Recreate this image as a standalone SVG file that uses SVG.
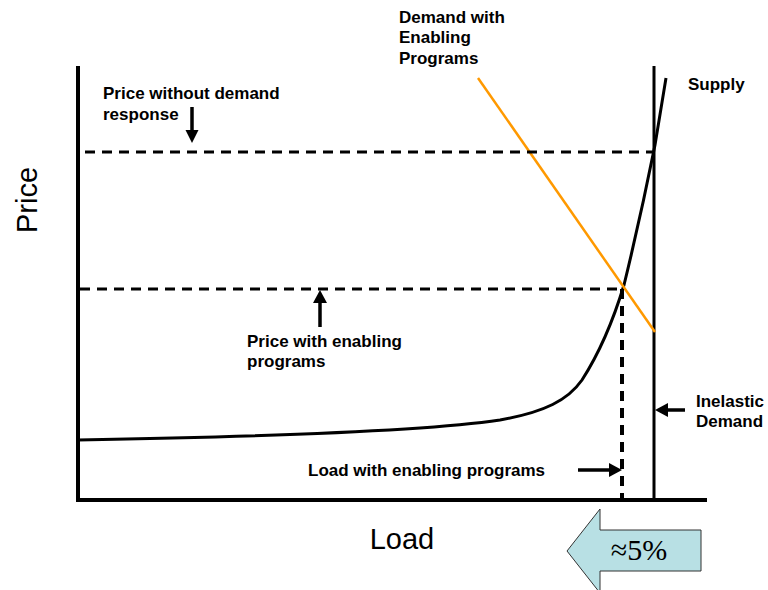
<svg xmlns="http://www.w3.org/2000/svg" width="768" height="590" viewBox="0 0 768 590">
  <defs>
    <style>
      .lbl { font-family: "Liberation Sans", Arial, sans-serif; font-weight: bold; font-size: 17px; fill: #000; }
      .axis-lbl { font-family: "Liberation Sans", Arial, sans-serif; font-size: 29px; fill: #000; }
      .axis { stroke: #000; stroke-width: 4; fill: none; }
      .dash { stroke: #000; stroke-width: 2.8; stroke-dasharray: 10 7; fill: none; }
      .dash-v { stroke: #000; stroke-width: 4; stroke-dasharray: 10 7; fill: none; }
      .ptr { stroke: #000; stroke-width: 3.5; fill: none; }
      .head { fill: #000; }
    </style>
  </defs>
  <rect width="768" height="590" fill="#fff"/>

  <!-- axes and the vertical inelastic demand line -->
  <g id="axes">
    <line class="axis" x1="78" y1="66" x2="78" y2="502"/>
    <line class="axis" x1="76" y1="500" x2="707" y2="500"/>
    <text class="axis-lbl" transform="translate(37,200) rotate(-90)" text-anchor="middle">Price</text>
    <text class="axis-lbl" x="402" y="549" text-anchor="middle">Load</text>
  </g>

  <g id="inelastic-demand">
    <line x1="654" y1="66" x2="654" y2="500" stroke="#000" stroke-width="3"/>
    <text class="lbl" x="696" y="407">Inelastic</text>
    <text class="lbl" x="696" y="427">Demand</text>
  </g>

  <g id="supply">
    <path d="M78,440 C250,437 420,432 500,420 C545,412 568,400 582,380 C600,352 614,318 624,285 C635,240 648,180 655,145 C659,120 663,95 666,78" fill="none" stroke="#000" stroke-width="3"/>
    <text class="lbl" x="688" y="90">Supply</text>
  </g>

  <g id="demand-enabling">
    <line x1="478" y1="78" x2="655" y2="332" stroke="#ff9900" stroke-width="2.5"/>
    <text class="lbl" x="399" y="23">Demand with</text>
    <text class="lbl" x="399" y="43">Enabling</text>
    <text class="lbl" x="399" y="64">Programs</text>
  </g>

  <!-- reference lines and pointers -->
  <g id="connectors">
    <line class="dash" x1="85" y1="152" x2="654" y2="152"/>
    <line class="dash" x1="80" y1="289" x2="622" y2="289"/>
    <line class="dash-v" x1="622" y1="289" x2="622" y2="500"/>

    <line class="ptr" x1="192" y1="107" x2="192" y2="131"/>
    <polygon class="head" points="185.5,130 198.5,130 192,143"/>

    <line class="ptr" x1="320" y1="327" x2="320" y2="302"/>
    <polygon class="head" points="313,303 327,303 320,290"/>

    <line class="ptr" x1="685" y1="410" x2="667" y2="410"/>
    <polygon class="head" points="668,403 668,417 655,410"/>

    <line class="ptr" x1="578" y1="470" x2="610" y2="470"/>
    <polygon class="head" points="609,463 609,477 622,470"/>
  </g>

  <g id="price-without">
    <text class="lbl" x="103" y="99">Price without demand</text>
    <text class="lbl" x="103" y="120">response</text>
  </g>

  <g id="price-with">
    <text class="lbl" x="247" y="347">Price with enabling</text>
    <text class="lbl" x="247" y="367">programs</text>
  </g>

  <g id="load-with">
    <text class="lbl" x="308" y="476">Load with enabling programs</text>
  </g>

  <g id="shift-arrow">
    <polygon points="567,551 600,509 600,530 701,530 701,571 600,571 600,593" fill="#b8e0e4" stroke="#333" stroke-width="1"/>
    <text x="639" y="560" text-anchor="middle" font-family="'Liberation Serif', 'Times New Roman', serif" font-size="30" fill="#000">≈5%</text>
  </g>
</svg>
